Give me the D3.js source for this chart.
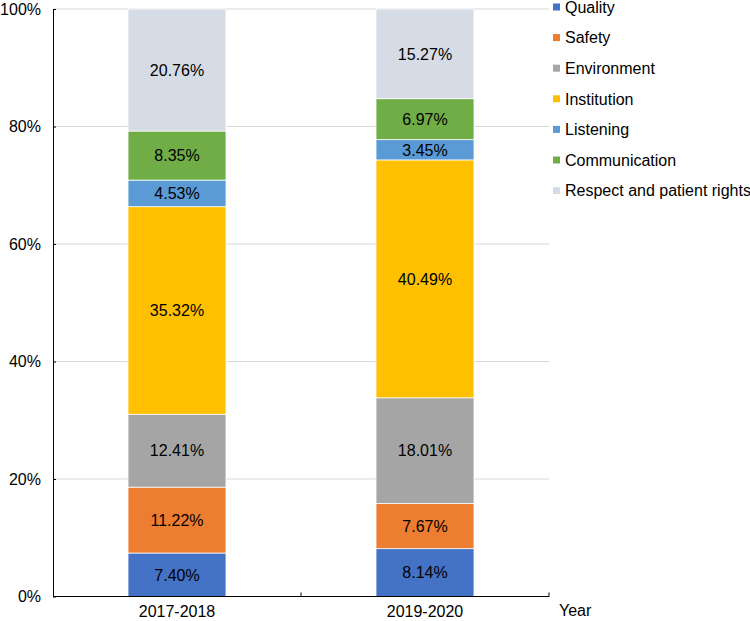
<!DOCTYPE html>
<html><head><meta charset="utf-8">
<script src="https://cdn.jsdelivr.net/npm/d3@7"></script>
<style>body{margin:0;background:#fff}svg{display:block;font-family:"Liberation Sans",Arial,sans-serif}</style>
</head><body><svg id="c" width="750" height="621"></svg>
<script>
const categories = ["2017-2018", "2019-2020"];
const seriesNames = ["Quality","Safety","Environment","Institution","Listening","Communication","Respect and patient rights"];
const quality = [7.40, 8.14];
const safety = [11.22, 7.67];
const environment = [12.41, 18.01];
const institution = [35.32, 40.49];
const listening = [4.53, 3.45];
const communication = [8.35, 6.97];
const respect = [20.76, 15.27];
const yTicks = [0, 20, 40, 60, 80, 100];
const colors = ["#4472C4","#ED7D31","#A5A5A5","#FFC000","#5B9BD5","#70AD47","#D6DCE5"];
const seriesValues = [quality, safety, environment, institution, listening, communication, respect];

const FS = 16;
const svg = d3.select("#c");
const m = {l:53, r:201, t:9};
const W = 750;
const x = d3.scaleBand().domain(categories).range([m.l, W - m.r]).paddingInner(0.605).paddingOuter(0.3025);
const y = d3.scaleLinear().domain([0,100]).range([596.5, m.t]);

const rows = categories.map((c,i)=>{const o={cat:c}; seriesNames.forEach((s,j)=>o[s]=seriesValues[j][i]); return o;});
const stack = d3.stack().keys(seriesNames)(rows);

// grid
svg.append("g").selectAll("line").data(yTicks.filter(t=>t>0)).join("line")
  .attr("x1", m.l).attr("x2", W - m.r).attr("y1", d=>y(d)).attr("y2", d=>y(d))
  .attr("stroke", "#d9d9d9").attr("stroke-width", 1);

// bars
const g = svg.append("g");
stack.forEach((layer,j)=>{
  g.append("g").selectAll("rect").data(layer).join("rect")
    .attr("x", d=>x(d.data.cat)).attr("width", x.bandwidth())
    .attr("y", d=>y(d[1])).attr("height", d=>y(d[0])-y(d[1]))
    .attr("fill", colors[j]).attr("stroke","#fff").attr("stroke-width",0.75);
  g.append("g").selectAll("text").data(layer).join("text")
    .attr("x", d=>x(d.data.cat)+x.bandwidth()/2).attr("y", d=>(y(d[0])+y(d[1]))/2)
    .attr("dy","0.36em").attr("text-anchor","middle").attr("font-size",FS).attr("fill","#000")
    .text(d=>(d[1]-d[0]).toFixed(2)+"%");
});

// y axis
const ya = svg.append("g").attr("transform",`translate(${m.l},0)`)
  .call(d3.axisLeft(y).tickValues(yTicks).tickFormat(d=>d+"%").tickSize(-3).tickSizeOuter(0).tickPadding(12));
ya.select(".domain").attr("stroke","#000");
ya.selectAll(".tick line").attr("stroke","#000");
ya.selectAll("text").attr("font-size",FS).attr("fill","#000").attr("font-family","Liberation Sans, Arial, sans-serif");

// x axis
const xa = svg.append("g").attr("transform",`translate(0,${y(0)})`)
  .call(d3.axisBottom(x).tickSize(0).tickPadding(9).tickSizeOuter(0));
xa.select(".domain").attr("stroke","#000").attr("d",`M${m.l},0H${W-m.r}V-4`);
xa.selectAll("text").attr("font-size",FS).attr("fill","#000").attr("font-family","Liberation Sans, Arial, sans-serif");
// category separator tick
const sep = (x(categories[0])+x.bandwidth()+x(categories[1]))/2;
svg.append("line").attr("x1",sep).attr("x2",sep).attr("y1",y(0)-4).attr("y2",y(0)).attr("stroke","#000");

svg.append("text").attr("x",559).attr("y",616).attr("font-size",FS).attr("fill","#000").text("Year");

// legend
const lg = svg.append("g");
seriesNames.forEach((s,j)=>{
  const cy = 7 + j*30.6;
  lg.append("rect").attr("x",553).attr("y",cy-3.5).attr("width",7).attr("height",7).attr("fill",colors[j]);
  lg.append("text").attr("x",565).attr("y",cy).attr("dy","0.36em").attr("font-size",FS).attr("fill","#000").text(s);
});
</script></body></html>
